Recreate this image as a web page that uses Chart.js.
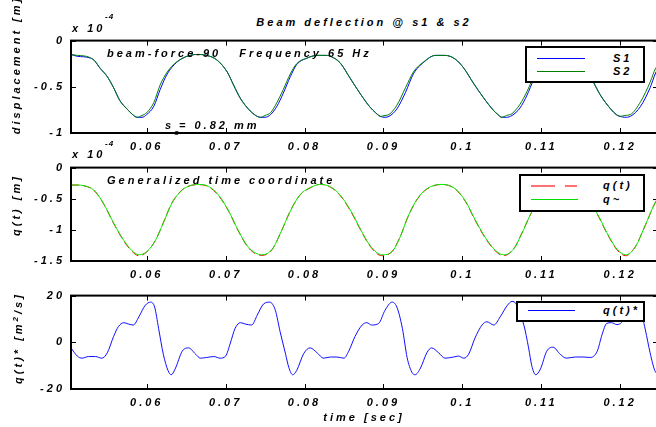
<!DOCTYPE html>
<html>
<head>
<meta charset="utf-8">
<script src="https://cdn.jsdelivr.net/npm/chart.js@4"></script>
<style>
  html, body { margin:0; padding:0; background:#fff; overflow:hidden; }
  #wrap { position:relative; width:656px; height:427px; overflow:hidden; background:#fff; }
  canvas { position:absolute; left:0; }
  .t { position:absolute; font-family:"Liberation Sans", Arial, sans-serif; font-weight:bold; font-style:italic;
       font-size:11px; letter-spacing:3px; white-space:pre; line-height:1; color:#000; transform:translate(0,-50%); }
  .c { transform:translate(-50%,-50%); }
  .rot { transform:translate(-50%,-50%) rotate(-90deg); }
  .sm { font-size:8px; letter-spacing:1px; }
  .leg { position:absolute; background:#fff; border:2px solid #000; box-sizing:border-box; }
  .ln { position:absolute; height:0; }
</style>
</head>
<body>
<div id="wrap">
  <canvas id="c1" width="660" height="127" style="top:28px"></canvas>
  <canvas id="c2" width="660" height="128" style="top:155px"></canvas>
  <canvas id="c3" width="660" height="128" style="top:283px"></canvas>

  <div class="t c" style="left:364px;top:22px">Beam deflection @ s1 &amp; s2</div>
  <div class="t" style="left:72px;top:28px">x 10</div>
  <div class="t sm" style="left:105px;top:17px">-4</div>
  <div class="t" style="left:107px;top:53px">beam-force-90   Frequency 65 Hz</div>
  <div class="t" style="left:165px;top:125px">s<span style="font-size:8px;position:relative;top:6px;margin-right:-3px">o</span>= 0.82 mm</div>
  <div class="t rot" style="left:16px;top:65px">displacement [m]</div>

  <div class="t" style="left:72px;top:154px">x 10</div>
  <div class="t sm" style="left:105px;top:144px">-4</div>
  <div class="t" style="left:107px;top:180px">Generalized time coordinate</div>
  <div class="t rot" style="left:16px;top:205px">q(t) [m]</div>

  <div class="t rot" style="left:18px;top:338px">q(t)* [m<sup style="font-size:8px">2</sup>/s]</div>
  <div class="t c" style="left:364px;top:417px">time [sec]</div>

  <div class="leg" style="left:525px;top:46px;width:120px;height:37px"></div>
  <div class="ln" style="left:537px;top:58px;width:48px;border-top:1px solid #0000ff"></div>
  <div class="ln" style="left:537px;top:71px;width:48px;border-top:1px solid #008000"></div>
  <div class="t" style="left:613px;top:58px">S1</div>
  <div class="t" style="left:613px;top:71px">S2</div>

  <div class="leg" style="left:519px;top:174px;width:126px;height:38px"></div>
  <div class="ln" style="left:531px;top:185px;width:24px;border-top:2px solid #ff7070"></div>
  <div class="ln" style="left:565px;top:185px;width:12px;border-top:2px solid #ff7070"></div>
  <div class="ln" style="left:531px;top:199px;width:47px;border-top:1px solid #00e000"></div>
  <div class="t" style="left:603px;top:185px">q(t)</div>
  <div class="t" style="left:603px;top:199px">q~</div>

  <div class="leg" style="left:516px;top:301px;width:129px;height:21px"></div>
  <div class="ln" style="left:528px;top:310px;width:47px;border-top:1px solid #0000ff"></div>
  <div class="t" style="left:603px;top:310px">q(t)*</div>
</div>
<script>
// x axis
var xMin = 0.0504, xMax = 0.1248;
var xTicks = [0.06, 0.07, 0.08, 0.09, 0.1, 0.11, 0.12];
var xTickLabels = ['0.06', '0.07', '0.08', '0.09', '0.1', '0.11', '0.12'];

// top plot, beam deflection (x 1e-4 m)
var tDefl = [0.0504, 0.0512, 0.0520, 0.0527, 0.0533, 0.0541, 0.0550, 0.0558, 0.0566, 0.0575, 0.0582, 0.0588,
  0.0594, 0.0600, 0.0609, 0.0617, 0.0626, 0.0638, 0.0651, 0.0664, 0.0676, 0.0689, 0.0702, 0.0710, 0.0719,
  0.0731, 0.0738, 0.0744, 0.0750, 0.0757, 0.0765, 0.0773, 0.0782, 0.0790, 0.0803, 0.0816, 0.0828, 0.0833,
  0.0845, 0.0858, 0.0871, 0.0883, 0.0890, 0.0896, 0.0902, 0.0907, 0.0917, 0.0928, 0.0938, 0.0951, 0.0966,
  0.0978, 0.0991, 0.1002, 0.1014, 0.1027, 0.1040, 0.1045, 0.1050, 0.1056, 0.1063, 0.1073, 0.1082, 0.1090,
  0.1100, 0.1115, 0.1128, 0.1140, 0.1152, 0.1163, 0.1175, 0.1188, 0.1195, 0.1200, 0.1206, 0.1213, 0.1226,
  0.1238, 0.1245, 0.1250];
var s2Vals = [-0.15, -0.16, -0.165, -0.18, -0.21, -0.30, -0.39, -0.51, -0.65, -0.74, -0.80, -0.83,
  -0.81, -0.78, -0.67, -0.48, -0.34, -0.23, -0.17, -0.15, -0.16, -0.21, -0.34, -0.48, -0.63,
  -0.76, -0.81, -0.83, -0.81, -0.78, -0.67, -0.53, -0.36, -0.25, -0.19, -0.16, -0.16, -0.17,
  -0.24, -0.41, -0.58, -0.72, -0.78, -0.82, -0.81, -0.80, -0.70, -0.51, -0.34, -0.23, -0.16,
  -0.16, -0.20, -0.30, -0.46, -0.62, -0.76, -0.80, -0.83, -0.81, -0.79, -0.69, -0.55, -0.40,
  -0.26, -0.17, -0.15, -0.17, -0.25, -0.40, -0.59, -0.74, -0.80, -0.82, -0.81, -0.80, -0.66,
  -0.45, -0.30, -0.25];
var s1Vals = [-0.15, -0.17, -0.175, -0.185, -0.21, -0.30, -0.39, -0.51, -0.65, -0.74, -0.80, -0.83,
  -0.83, -0.80, -0.71, -0.53, -0.36, -0.235, -0.17, -0.15, -0.16, -0.21, -0.34, -0.48, -0.63,
  -0.76, -0.81, -0.83, -0.83, -0.80, -0.71, -0.57, -0.39, -0.26, -0.19, -0.16, -0.16, -0.17,
  -0.24, -0.41, -0.58, -0.72, -0.78, -0.82, -0.83, -0.82, -0.74, -0.56, -0.36, -0.235, -0.16,
  -0.16, -0.20, -0.30, -0.46, -0.62, -0.76, -0.80, -0.83, -0.83, -0.81, -0.73, -0.59, -0.43,
  -0.27, -0.17, -0.15, -0.17, -0.25, -0.40, -0.59, -0.74, -0.80, -0.82, -0.83, -0.82, -0.71,
  -0.51, -0.35, -0.28];
var yTicksTop = [0, -0.5, -1];
var yLabelsTop = ['0', '-0.5', '-1'];

// middle plot, generalized coordinate (x 1e-4 m)
var tGen = [0.0504, 0.0512, 0.0520, 0.0533, 0.0545, 0.0558, 0.0571, 0.0581, 0.0590, 0.0600, 0.0611, 0.0621,
  0.0632, 0.0645, 0.0655, 0.0666, 0.0678, 0.0691, 0.0704, 0.0716, 0.0729, 0.0746, 0.0759, 0.0771, 0.0782,
  0.0794, 0.0809, 0.0820, 0.0833, 0.0845, 0.0858, 0.0871, 0.0883, 0.0898, 0.0911, 0.0921, 0.0932, 0.0943,
  0.0955, 0.0974, 0.0991, 0.1004, 0.1016, 0.1029, 0.1042, 0.1052, 0.1065, 0.1075, 0.1086, 0.1095, 0.1108,
  0.1120, 0.1130, 0.1142, 0.1153, 0.1163, 0.1171, 0.1183, 0.1196, 0.1207, 0.1219, 0.1232, 0.1244, 0.1250];
var qFitVals = [-0.28, -0.28, -0.29, -0.36, -0.57, -0.89, -1.17, -1.33, -1.40, -1.35, -1.17, -0.89,
  -0.57, -0.36, -0.29, -0.27, -0.30, -0.44, -0.70, -1.01, -1.28, -1.40, -1.31, -1.01, -0.70,
  -0.44, -0.31, -0.27, -0.31, -0.44, -0.68, -0.99, -1.25, -1.40, -1.35, -1.12, -0.76, -0.50,
  -0.34, -0.27, -0.34, -0.54, -0.83, -1.12, -1.33, -1.40, -1.31, -1.07, -0.76, -0.55, -0.37,
  -0.29, -0.27, -0.30, -0.42, -0.62, -0.74, -1.04, -1.31, -1.40, -1.28, -0.92, -0.57, -0.45];
var qVals = [-0.28, -0.28, -0.29, -0.365, -0.575, -0.895, -1.18, -1.34, -1.415, -1.355, -1.17, -0.885,
  -0.565, -0.355, -0.29, -0.275, -0.305, -0.45, -0.705, -1.015, -1.29, -1.41, -1.315, -1.01, -0.695,
  -0.445, -0.315, -0.27, -0.315, -0.445, -0.69, -1.00, -1.26, -1.415, -1.345, -1.115, -0.765, -0.505,
  -0.345, -0.27, -0.345, -0.545, -0.84, -1.13, -1.34, -1.415, -1.305, -1.065, -0.765, -0.555, -0.375,
  -0.295, -0.27, -0.305, -0.43, -0.625, -0.75, -1.05, -1.32, -1.415, -1.275, -0.925, -0.575, -0.455];
var yTicksMid = [0, -0.5, -1, -1.5];
var yLabelsMid = ['0', '-0.5', '-1', '-1.5'];

// bottom plot, derivative
var tDot = [0.0504, 0.0512, 0.0518, 0.0526, 0.0535, 0.0543, 0.0550, 0.0558, 0.0564, 0.0571, 0.0577, 0.0583,
  0.0590, 0.0598, 0.0605, 0.0610, 0.0615, 0.0621, 0.0627, 0.0631, 0.0636, 0.0645, 0.0653, 0.0662, 0.0668,
  0.0676, 0.0685, 0.0693, 0.0700, 0.0706, 0.0712, 0.0719, 0.0725, 0.0733, 0.0740, 0.0748, 0.0756, 0.0763,
  0.0769, 0.0776, 0.0780, 0.0785, 0.0790, 0.0799, 0.0807, 0.0816, 0.0824, 0.0833, 0.0841, 0.0850, 0.0856,
  0.0864, 0.0873, 0.0879, 0.0885, 0.0894, 0.0902, 0.0911, 0.0917, 0.0924, 0.0930, 0.0936, 0.0940, 0.0947,
  0.0955, 0.0961, 0.0970, 0.0978, 0.0989, 0.0995, 0.1002, 0.1008, 0.1016, 0.1025, 0.1031, 0.1040, 0.1048,
  0.1057, 0.1063, 0.1068, 0.1073, 0.1078, 0.1084, 0.1088, 0.1093, 0.1099, 0.1107, 0.1115, 0.1124, 0.1132,
  0.1143, 0.1154, 0.1162, 0.1171, 0.1177, 0.1183, 0.1189, 0.1196, 0.1202, 0.1210, 0.1219, 0.1225, 0.1232,
  0.1238, 0.1244, 0.1250];
var qDotVals = [-2.4, -5.9, -6.8, -6.1, -6.1, -6.8, -4.5, 2.5, 6.7, 8.4, 7.8, 7.4,
  10.9, 15.8, 17.2, 15.1, 6.0, -5.1, -12.1, -13.9, -11.4, -3.8, -2.4, -5.1, -6.8,
  -6.5, -6.1, -6.8, -5.9, -0.3, 6.0, 8.4, 7.8, 7.4, 11.6, 16.4, 17.2, 13.7,
  4.6, -5.1, -10.7, -13.9, -12.1, -4.8, -2.4, -4.5, -6.8, -6.3, -6.3, -6.8, -3.8,
  2.5, 7.4, 8.4, 7.4, 8.1, 13.7, 17.2, 15.1, 6.0, -6.5, -12.8, -13.9, -11.0,
  -4.5, -2.4, -4.5, -6.8, -6.3, -5.9, -6.8, -5.1, 1.8, 7.4, 8.8, 7.4, 10.9,
  15.8, 17.5, 16.5, 12.0, 7.4, -2.4, -10.0, -13.9, -11.4, -3.8, -2.1, -5.1, -6.8,
  -6.3, -6.3, -6.5, -3.8, 3.2, 8.1, 8.4, 7.6, 8.6, 13.5, 17.2, 15.0, 5.3,
  -4.5, -12.1, -14.0];
var yTicksBot = [20, 0, -20];
var yLabelsBot = ['20', '0', '-20'];

var tickFont = { family: '"Liberation Sans", Arial, sans-serif', size: 11, weight: 'bold', style: 'italic' };

function pts(t, v) {
  return t.map(function(x, i) { return { x: x, y: v[i] }; });
}

// box round the axes, ticks pointing inwards, wide letter spacing
var boxPlugin = {
  id: 'box',
  beforeLayout: function(chart) { chart.ctx.letterSpacing = '3px'; },
  beforeDraw: function(chart) { chart.ctx.letterSpacing = '3px'; },
  afterDatasetsDraw: function(chart) {
    var ctx = chart.ctx, a = chart.chartArea, sx = chart.scales.x, sy = chart.scales.y;
    ctx.save();
    ctx.strokeStyle = '#000';
    ctx.lineWidth = 1;
    ctx.beginPath();
    sx.ticks.forEach(function(tk) {
      var px = Math.round(sx.getPixelForValue(tk.value)) + 0.5;
      ctx.moveTo(px, a.top); ctx.lineTo(px, a.top + 5);
      ctx.moveTo(px, a.bottom); ctx.lineTo(px, a.bottom - 5);
    });
    sy.ticks.forEach(function(tk) {
      var py = Math.round(sy.getPixelForValue(tk.value)) + 0.5;
      ctx.moveTo(a.left, py); ctx.lineTo(a.left + 5, py);
      ctx.moveTo(a.right, py); ctx.lineTo(a.right - 5, py);
    });
    ctx.stroke();
    ctx.lineWidth = 2;
    ctx.strokeRect(a.left, a.top, a.right - a.left, a.bottom - a.top);
    ctx.restore();
  }
};

function makeChart(id, sets, yTicks, yLabels, yMin, yMax) {
  var ctx = document.getElementById(id).getContext('2d');
  return new Chart(ctx, {
    type: 'line',
    data: { datasets: sets },
    options: {
      responsive: false,
      animation: false,
      layout: { padding: { top: 10, right: 2, left: 0, bottom: 0 } },
      plugins: { legend: { display: false }, tooltip: { enabled: false } },
      elements: { point: { radius: 0 }, line: { borderWidth: 1, cubicInterpolationMode: 'monotone' } },
      scales: {
        x: {
          type: 'linear', min: xMin, max: xMax,
          grid: { display: false, drawTicks: false }, border: { display: false },
          afterBuildTicks: function(s) { s.ticks = xTicks.map(function(v) { return { value: v }; }); },
          afterFit: function(s) { s.height = 22; },
          ticks: {
            autoSkip: false, maxRotation: 0, padding: 7, color: '#000', font: tickFont,
            callback: function(v) { var i = xTicks.indexOf(v); return i < 0 ? '' : xTickLabels[i]; }
          }
        },
        y: {
          type: 'linear', min: yMin, max: yMax,
          grid: { display: false, drawTicks: false }, border: { display: false },
          afterBuildTicks: function(s) { s.ticks = yTicks.map(function(v) { return { value: v }; }); },
          afterFit: function(s) { s.width = 71; },
          ticks: {
            autoSkip: false, padding: 6, color: '#000', font: tickFont,
            callback: function(v) { var i = yTicks.indexOf(v); return i < 0 ? '' : yLabels[i]; }
          }
        }
      }
    },
    plugins: [boxPlugin]
  });
}

makeChart('c1', [
  { label: 'S2', data: pts(tDefl, s2Vals), borderColor: '#008000', order: 0 },
  { label: 'S1', data: pts(tDefl, s1Vals), borderColor: '#0000ff', order: 1 }
], yTicksTop, yLabelsTop, -1, 0);

makeChart('c2', [
  { label: 'q~', data: pts(tGen, qFitVals), borderColor: '#00ee00', order: 0 },
  { label: 'q(t)', data: pts(tGen, qVals), borderColor: '#ff0000', borderDash: [8, 4], order: 1 }
], yTicksMid, yLabelsMid, -1.5, 0);

makeChart('c3', [
  { label: 'q(t)*', data: pts(tDot, qDotVals), borderColor: '#1010ff', order: 0 }
], yTicksBot, yLabelsBot, -20, 20);
</script>
</body>
</html>
